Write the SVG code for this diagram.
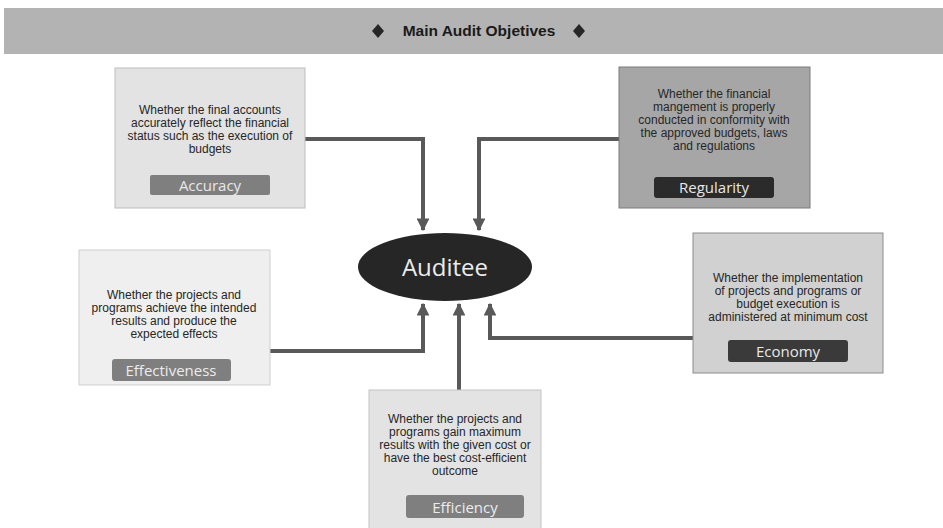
<svg xmlns="http://www.w3.org/2000/svg" width="943" height="528" viewBox="0 0 943 528">
<style>
.t{font-family:"Liberation Sans",Arial,sans-serif;font-size:12px;fill:#262626;text-anchor:middle}
.p{font-family:"Open Sans","Liberation Sans",sans-serif;font-size:15px;text-anchor:middle}
.c{fill:none;stroke:#595959;stroke-width:4}
</style>
<defs>
<marker id="ah" viewBox="0 0 10 10" refX="9" refY="5" markerWidth="3.2" markerHeight="3.2" orient="auto" markerUnits="strokeWidth">
<path d="M0,0 L10,5 L0,10 Z" fill="#595959"/>
</marker>
</defs>
<rect x="0" y="0" width="943" height="528" fill="#ffffff"/>
<g id="header">
<rect x="4" y="8" width="939" height="46" fill="#b3b3b3"/>
<path d="M378,24 L384,31 L378,38 L372,31 Z" fill="#262626"/>
<path d="M579,24 L585,31 L579,38 L573,31 Z" fill="#262626"/>
<text x="479" y="36" font-family="'Liberation Sans',Arial,sans-serif" font-size="15.5" font-weight="bold" fill="#1a1a1a" text-anchor="middle">Main Audit Objetives</text>
</g>
<g id="connectors">
<path class="c" d="M305,139 H423 V230" marker-end="url(#ah)"/>
<path class="c" d="M619,139 H479 V230" marker-end="url(#ah)"/>
<path class="c" d="M270,351 H423 V304" marker-end="url(#ah)"/>
<path class="c" d="M459,390 V304" marker-end="url(#ah)"/>
<path class="c" d="M693,338 H490 V304" marker-end="url(#ah)"/>
</g>
<g id="auditee">
<ellipse cx="445" cy="267" rx="87" ry="34" fill="#262626"/>
<text x="445" y="276" font-family="'Open Sans','Liberation Sans',sans-serif" font-size="24" fill="#ececec" text-anchor="middle">Auditee</text>
</g>
<g id="accuracy">
<rect x="115" y="68" width="190" height="140" fill="#e3e3e3" stroke="#bdbdbd" stroke-width="1"/>
<text class="t" x="210" y="114">Whether the final accounts</text>
<text class="t" x="210" y="127">accurately reflect the financial</text>
<text class="t" x="210" y="140">status such as the execution of</text>
<text class="t" x="210" y="153">budgets</text>
<rect x="150" y="175" width="120" height="20" rx="2" fill="#7f7f7f"/>
<text class="p" x="210" y="191" fill="#e8e8e8">Accuracy</text>
</g>
<g id="regularity">
<rect x="619" y="67" width="191" height="141" fill="#a6a6a6" stroke="#7a7a7a" stroke-width="1"/>
<text class="t" x="714" y="98">Whether the financial</text>
<text class="t" x="714" y="111">mangement is properly</text>
<text class="t" x="714" y="124">conducted in conformity with</text>
<text class="t" x="714" y="137">the approved budgets, laws</text>
<text class="t" x="714" y="150">and regulations</text>
<rect x="654" y="177" width="120" height="21" rx="3" fill="#2b2b2b"/>
<text class="p" x="714" y="193" fill="#e8e8e8">Regularity</text>
</g>
<g id="effectiveness">
<rect x="79" y="250" width="191" height="135" fill="#efefef" stroke="#cfcfcf" stroke-width="1"/>
<text class="t" x="174" y="299">Whether the projects and</text>
<text class="t" x="174" y="312">programs achieve the intended</text>
<text class="t" x="174" y="325">results and produce the</text>
<text class="t" x="174" y="338">expected effects</text>
<rect x="112" y="359" width="119" height="22" rx="3" fill="#7f7f7f"/>
<text class="p" x="171" y="376" fill="#ececec">Effectiveness</text>
</g>
<g id="economy">
<rect x="693" y="233" width="190" height="140" fill="#d1d1d1" stroke="#8c8c8c" stroke-width="1"/>
<text class="t" x="788" y="282">Whether the implementation</text>
<text class="t" x="788" y="295">of projects and programs or</text>
<text class="t" x="788" y="308">budget execution is</text>
<text class="t" x="788" y="321">administered at minimum cost</text>
<rect x="728" y="340" width="120" height="22" rx="3" fill="#3a3a3a"/>
<text class="p" x="788" y="357" fill="#e8e8e8">Economy</text>
</g>
<g id="efficiency">
<rect x="369" y="390" width="172" height="140" fill="#e3e3e3" stroke="#c4c4c4" stroke-width="1"/>
<text class="t" x="455" y="423">Whether the projects and</text>
<text class="t" x="455" y="436">programs gain maximum</text>
<text class="t" x="455" y="449">results with the given cost or</text>
<text class="t" x="455" y="462">have the best cost-efficient</text>
<text class="t" x="455" y="475">outcome</text>
<rect x="406" y="495" width="118" height="23" rx="3" fill="#7f7f7f"/>
<text class="p" x="465" y="513" fill="#ececec">Efficiency</text>
</g>
</svg>
